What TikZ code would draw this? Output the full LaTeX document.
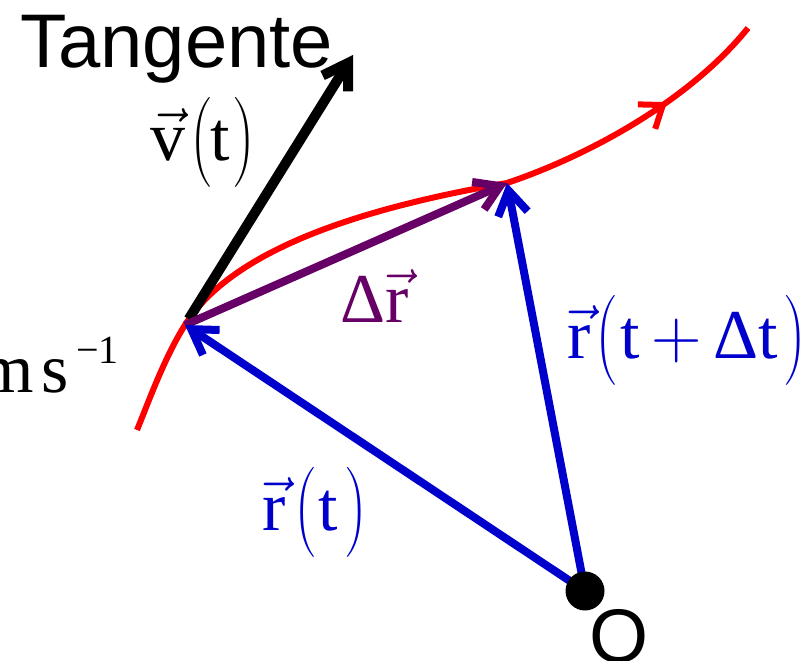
\RequirePackage{fix-cm}
\documentclass[tikz,border=0pt]{standalone}
\usepackage{amsmath}
\usepackage{fontspec}
\setmainfont{Liberation Serif}
\setsansfont{Liberation Sans}
\usetikzlibrary{arrows.meta, decorations.markings, positioning}
\definecolor{curvered}{RGB}{255,0,0}
\definecolor{vecblue}{RGB}{0,0,204}
\definecolor{vecpurple}{RGB}{102,0,102}
\newcommand{\Dlt}{\text{Δ}}

\begin{document}
\begin{tikzpicture}[
    x=1pt, y=-1pt,
    vecarrow/.style={-{Straight Barb[length=24pt, width=30pt]}, line width=8pt},
    trajectory/.style={curvered, line width=6pt},
    bigserif/.style={font=\fontsize{70}{80}\selectfont, inner sep=0pt, anchor=base west},
    bigsans/.style={font=\sffamily\fontsize{76}{86}\selectfont, inner sep=0pt, anchor=base west},
]
    \useasboundingbox (0,0) rectangle (811,661);

    \coordinate (S) at (137,430);
    \coordinate (P1) at (185,325);
    \coordinate (P2) at (507,183);
    \coordinate (E) at (748,28);
    \coordinate (T) at (353,55);
    \coordinate (O) at (585,591);

    % trajectory
    \draw[trajectory] (S) .. controls (147,406) and (164,358) .. (P1)
        .. controls (222,266) and (315,216) .. (P2);
    \draw[trajectory, postaction={decorate},
        decoration={markings, mark=at position 0.62 with {\arrow{Straight Barb[length=20pt, width=30pt]}}}]
        (P2) .. controls (590,155) and (690,100) .. (E);

    % vectors
    \draw[vecarrow, line width=10pt, shorten <=7pt] (P1) -- (T);
    \draw[vecarrow, vecpurple] (P1) -- (P2);
    \draw[vecarrow, vecblue] (O) -- (P1);
    \draw[vecarrow, vecblue] (O) -- (P2);
    \node[circle, fill, minimum size=39pt, inner sep=0pt] (dot) at (O) {};

    % labels
    \node[bigsans] (tangente) at (20,67) {Tangente};
    \node[bigserif] (vlabel) at (150,160)
        {$\vec{\mathrm{v}}\mkern1mu\bigl(\mathrm{t}\mkern1mu\bigr)$};
    \node[bigserif, text=vecpurple] (drlabel) at (340,322) {$\Dlt\vec{\mathrm{r}}$};
    \node[bigserif, text=vecblue] (rlabel) at (262,530)
        {$\vec{\mathrm{r}}\mkern2mu\bigl(\mkern1mu\mathrm{t}\mkern2mu\bigr)$};
    \node[bigserif, text=vecblue] (rdtlabel) at (567,358)
        {$\vec{\mathrm{r}}\mkern1mu\bigl(\mkern1mu\mathrm{t}\mkern3mu{+}\mkern3mu\Dlt\mathrm{t}\mkern2mu\bigr)$};
    \node[bigserif, anchor=base east] (units) at (119,392)
        {m\kern8pt s\kern7pt\raisebox{29pt}{\fontsize{40}{44}\selectfont −1}};
    \node[bigsans] (olabel) at (589,662) {O};
\end{tikzpicture}
\end{document}
